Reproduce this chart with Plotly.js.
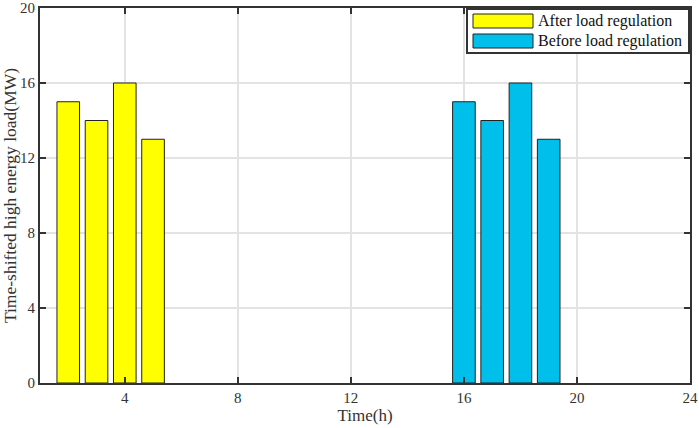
<!DOCTYPE html>
<html>
<head>
<meta charset="utf-8">
<script src="https://cdn.plot.ly/plotly-3.0.1.min.js"></script>
<style>html,body{margin:0;padding:0;background:#fff;}#chart{width:699px;height:428px;}</style>
</head>
<body>
<div id="chart"></div>
<script>
const afterHours = [2, 3, 4, 5];
const afterLoad = [15, 14, 16, 13];
const beforeHours = [16, 17, 18, 19];
const beforeLoad = [15, 14, 16, 13];
const seriesNames = ['After load regulation', 'Before load regulation'];
const xTicks = [4, 8, 12, 16, 20, 24];
const yTicks = [0, 4, 8, 12, 16, 20];

const colors = ['#FFFF00', '#00BFEA'];
const font = 'Liberation Serif, Times New Roman, serif';

const traces = [
  {type: 'bar', x: afterHours, y: afterLoad, name: seriesNames[0], width: 0.8,
   marker: {color: colors[0], line: {color: '#222', width: 1}}},
  {type: 'bar', x: beforeHours, y: beforeLoad, name: seriesNames[1], width: 0.8,
   marker: {color: colors[1], line: {color: '#222', width: 1}}}
];

// custom legend (paper coordinates)
const TOP = 8, BOTTOM = 383;
const px = v => (v - 40) / 650;
const py = v => (BOTTOM - v) / (BOTTOM - TOP);
const shapes = [
  {type: 'rect', xref: 'paper', yref: 'paper', x0: px(467), x1: px(689), y0: py(53), y1: py(9),
   line: {color: '#333', width: 2}, fillcolor: '#fff', layer: 'above'},
  {type: 'rect', xref: 'paper', yref: 'paper', x0: px(473), x1: px(533), y0: py(28), y1: py(14),
   line: {color: '#222', width: 1}, fillcolor: colors[0], layer: 'above'},
  {type: 'rect', xref: 'paper', yref: 'paper', x0: px(473), x1: px(533), y0: py(48), y1: py(34),
   line: {color: '#222', width: 1}, fillcolor: colors[1], layer: 'above'}
];
const annotations = [
  {xref: 'paper', yref: 'paper', x: px(536), y: py(21), xanchor: 'left', yanchor: 'middle',
   text: seriesNames[0], showarrow: false, font: {family: font, size: 16, color: '#111'}},
  {xref: 'paper', yref: 'paper', x: px(536), y: py(41), xanchor: 'left', yanchor: 'middle',
   text: seriesNames[1], showarrow: false, font: {family: font, size: 16, color: '#111'}}
];

const layout = {
  width: 699, height: 428,
  margin: {l: 40, r: 9, t: TOP, b: 428 - BOTTOM},
  paper_bgcolor: '#fff', plot_bgcolor: '#fff',
  showlegend: false,
  font: {family: font, size: 15, color: '#333'},
  xaxis: {
    range: [1, 24], tickvals: xTicks, ticktext: xTicks.map(String),
    ticks: 'inside', ticklen: 6, tickwidth: 2, tickcolor: '#333',
    showline: true, linecolor: '#333', linewidth: 2, mirror: 'ticks',
    showgrid: true, gridcolor: '#e3e3e3', gridwidth: 1.5, zeroline: false,
    ticklabeloverflow: 'allow',
    title: {text: 'Time(h)', font: {family: font, size: 17, color: '#333'}, standoff: 2},
    tickfont: {family: font, size: 15, color: '#333'}
  },
  yaxis: {
    range: [0, 20], tickvals: yTicks, ticktext: yTicks.map(String),
    ticks: 'inside', ticklen: 6, tickwidth: 2, tickcolor: '#333',
    showline: true, linecolor: '#333', linewidth: 2, mirror: 'ticks',
    showgrid: true, gridcolor: '#e3e3e3', gridwidth: 1.5, zeroline: false,
    ticklabeloverflow: 'allow',
    title: {text: 'Time-shifted high energy load(MW)', font: {family: font, size: 17.5, color: '#333'}, standoff: 3},
    tickfont: {family: font, size: 15, color: '#333'}
  },
  shapes: shapes,
  annotations: annotations
};

Plotly.newPlot('chart', traces, layout, {displayModeBar: false, staticPlot: true});
</script>
</body>
</html>
